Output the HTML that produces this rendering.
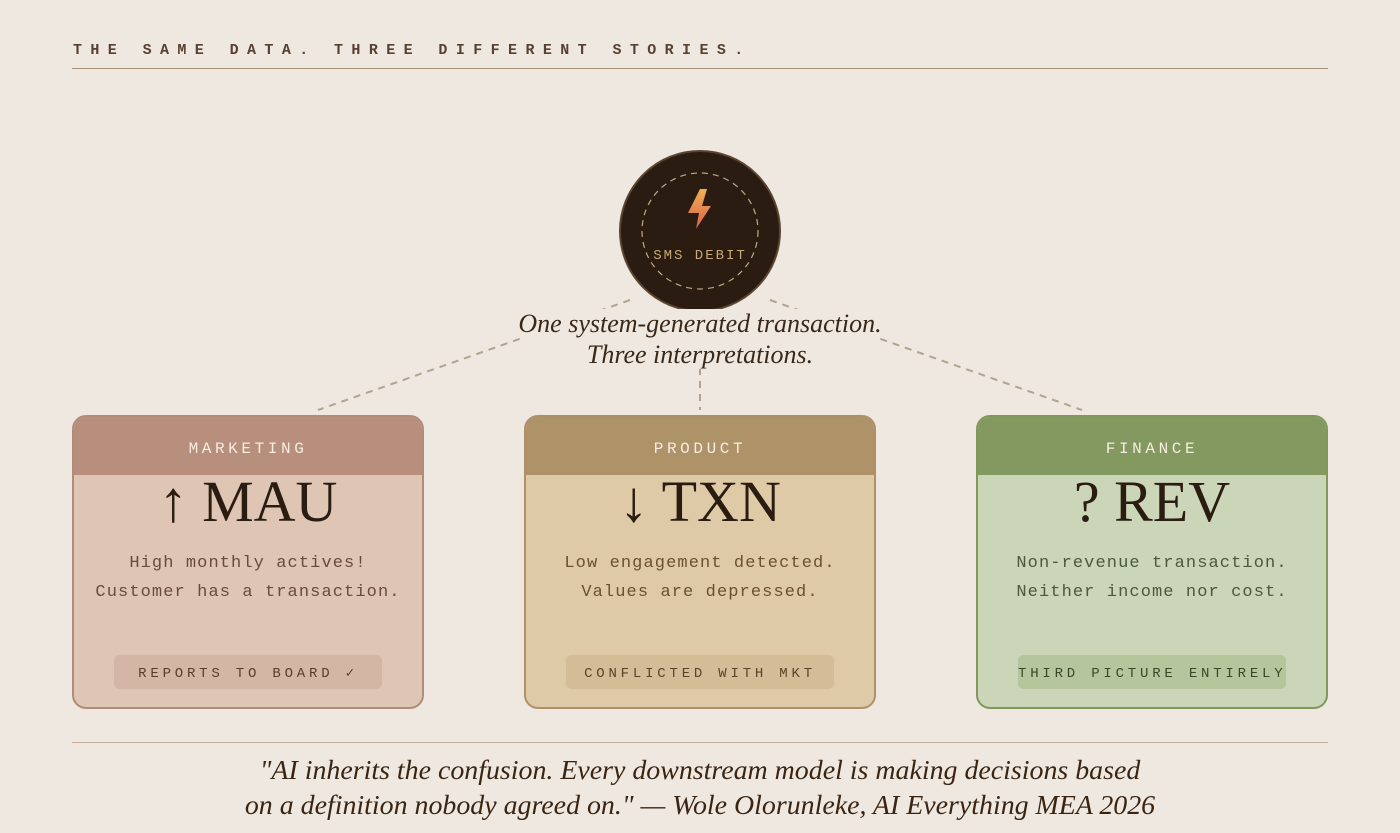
<!DOCTYPE html>
<html><head><meta charset="utf-8"><style>
*{margin:0;padding:0;box-sizing:border-box}
body{width:1400px;height:833px;background:#efe8e0;position:relative;overflow:hidden;font-family:"Liberation Serif",serif}
.mono{font-family:"Liberation Mono",monospace}
.abs{position:absolute}
.title{left:73px;top:42px;font-size:15px;font-weight:bold;letter-spacing:8.4px;color:#5a4030}
.rule{left:72px;width:1256px;height:1px;background:#a89078}
.card{position:absolute;top:415px;width:352px;height:294px;border-radius:14px;border:2px solid;overflow:hidden}
.hd{height:58px;line-height:64px;text-align:center;font-size:16px;letter-spacing:3.6px;color:#f5ece2}
.big{text-align:center;font-size:58px;line-height:54px;color:#2a1c10}
.body{text-align:center;font-size:17px;letter-spacing:1.1px;line-height:29px;margin-top:20px}
.pill{position:absolute;left:40px;top:238px;width:268px;height:34px;border-radius:5px;text-align:center;line-height:38px;font-size:14px;letter-spacing:3.8px;white-space:nowrap}
.cap{left:0;width:1400px;text-align:center;font-style:italic;font-size:26px;color:#3a2818}
.cap span{background:#efe8e0;padding:0 4px}
</style></head><body>
<div class="abs mono title">THE SAME DATA. THREE DIFFERENT STORIES.</div>
<div class="abs rule" style="top:68px"></div>
<svg class="abs" style="left:0;top:0" width="1400" height="833">
<g stroke="#b0a490" stroke-width="2" stroke-dasharray="7,6" fill="none">
<line x1="630" y1="300" x2="318" y2="410"/>
<line x1="770" y1="300" x2="1082" y2="410"/>
<line x1="700" y1="368" x2="700" y2="410"/>
</g>
<circle cx="700" cy="231" r="80" fill="#2a1c10" stroke="#5a4530" stroke-width="2"/>
<circle cx="700" cy="231" r="58" fill="none" stroke="#c0a888" stroke-width="1.2" stroke-dasharray="6,5"/>
<defs><linearGradient id="g" x1="0" y1="0" x2="0" y2="1"><stop offset="0" stop-color="#f0b050"/><stop offset="1" stop-color="#d86050"/></linearGradient></defs>
<path d="M700 189 L688 213 L699 213 L696 229 L711 206 L702 206 L707 189 Z" fill="url(#g)"/>
<text x="700" y="259" text-anchor="middle" font-family="Liberation Mono" font-size="14" letter-spacing="2" fill="#c8a878">SMS DEBIT</text>
</svg>
<div class="abs cap" style="top:309px"><span>One system-generated transaction.</span></div>
<div class="abs cap" style="top:340px"><span>Three interpretations.</span></div>

<div class="card" style="left:72px;background:#dfc6b4;border-color:#b08c7a">
<div class="hd mono" style="background:#b78f7c">MARKETING</div>
<div class="big">↑ MAU</div>
<div class="body mono" style="color:#6a4a38">High monthly actives!<br>Customer has a transaction.</div>
<div class="pill mono" style="background:#d4b6a4;color:#5a3c2c">REPORTS TO BOARD ✓</div>
</div>
<div class="card" style="left:524px;background:#dfcaa8;border-color:#ae9068">
<div class="hd mono" style="background:#ae9268">PRODUCT</div>
<div class="big">↓ TXN</div>
<div class="body mono" style="color:#6a5030">Low engagement detected.<br>Values are depressed.</div>
<div class="pill mono" style="background:#d4bc96;color:#5a4428">CONFLICTED WITH MKT</div>
</div>
<div class="card" style="left:976px;background:#cbd5b8;border-color:#80985c">
<div class="hd mono" style="background:#84995f">FINANCE</div>
<div class="big">? REV</div>
<div class="body mono" style="color:#4a5a38">Non-revenue transaction.<br>Neither income nor cost.</div>
<div class="pill mono" style="background:#b6c69c;color:#3a4828">THIRD PICTURE ENTIRELY</div>
</div>

<div class="abs rule" style="top:742px;background:#c8b0a0"></div>
<div class="abs" style="left:0;width:1400px;top:753px;text-align:center;font-style:italic;font-size:27.9px;line-height:35px;color:#3a2412;white-space:nowrap">"AI inherits the confusion. Every downstream model is making decisions based<br>on a definition nobody agreed on." — Wole Olorunleke, AI Everything MEA 2026</div>
</body></html>
